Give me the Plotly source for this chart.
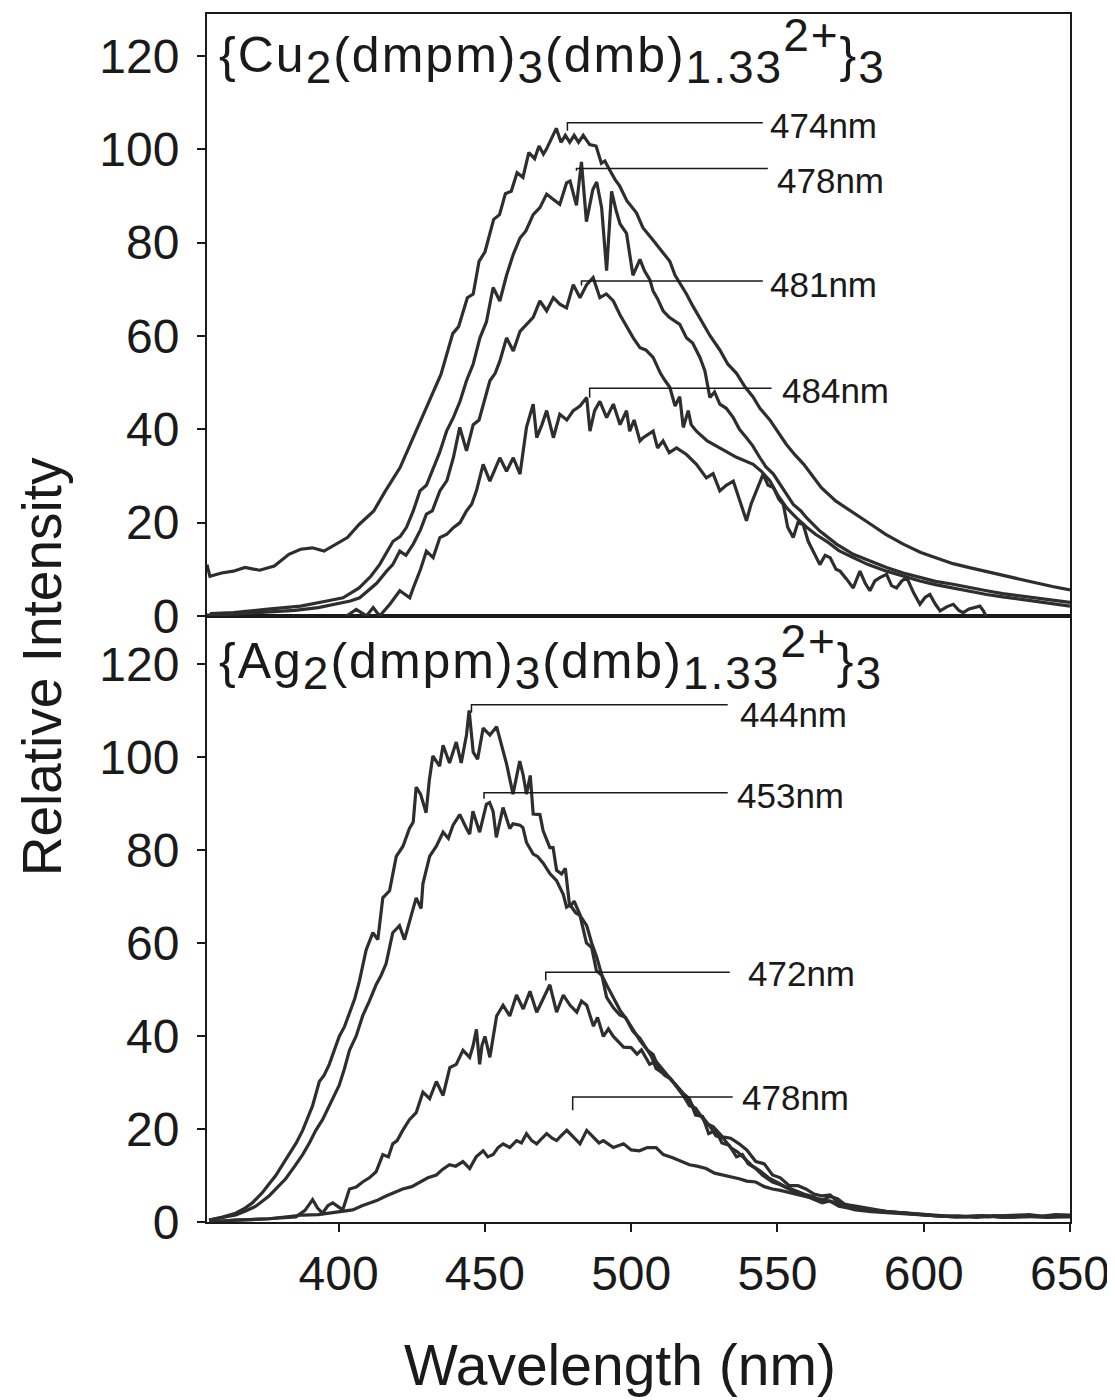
import plotly.graph_objects as go

# ---------------- data (wavelength nm, relative intensity) ----------------
CU_474 = [(355, 11), (356, 8.5), (360, 9.2), (364, 9.6), (368, 10.4), (373, 9.8), (378, 10.7), (383, 13.2),
          (387, 14.3), (391, 14.6), (395, 13.9), (398, 15), (403, 16.8), (407, 19.6), (412, 22.5), (416, 26.8),
          (421, 31.8), (425, 37.5), (430, 44.6), (435, 51.8), (439, 60.5), (441, 62), (444, 68.2), (446, 69),
          (448, 76), (450, 78), (453, 85), (455, 86), (457, 90.5), (459, 91), (461, 95), (463, 94), (465, 99.3),
          (467, 98), (468.5, 100.7), (470, 99), (471, 100), (472.5, 102), (474.4, 104.5), (476, 101.5),
          (477.5, 103), (479, 101.5), (480.5, 103), (482, 101.5), (483.6, 103), (485.8, 101), (488, 100.7),
          (489.8, 97), (491, 97.5), (492.7, 95.5), (494.5, 93.5), (496.1, 92.1), (498.5, 89), (501.8, 86.4),
          (504, 83.2), (507.5, 80.5), (510, 78.5), (513.2, 76), (515, 73), (518.9, 69), (521, 66.5),
          (524.6, 62.5), (527, 60), (530.3, 57), (533, 54), (536, 52), (539, 49), (541.6, 47), (544, 44.5),
          (547.4, 42), (550, 39.5), (553, 36.8), (556, 34.5), (559, 32.5), (562, 30), (565, 27.5), (570, 24.6),
          (576, 22), (582, 19.6), (587, 17.5), (593, 15.4), (599, 13.6), (604, 12.5), (610, 11.2), (616, 10.3),
          (622, 9.4), (628, 8.5), (633, 7.8), (639, 7), (644, 6.3), (650, 5.6)]

CU_478 = [(356, 0.5), (364, 0.7), (375, 1.4), (387, 2.1), (396, 3.2), (401.5, 3.9), (407, 6), (411, 8.5),
          (414, 11), (418.6, 16), (421, 17), (423.2, 19), (425.5, 22.5), (427.8, 26.8), (430, 28), (432.3, 31.8),
          (434.5, 35), (436.9, 39.6), (439.2, 42.5), (441.5, 46), (443.7, 50.4), (446, 54), (448.3, 59.6),
          (450.5, 63), (452.8, 70.4), (455.1, 67.5), (457.4, 73), (459.7, 77.5), (462, 81), (464, 82.5),
          (466.5, 86), (468.8, 87.5), (471.1, 90.4), (473.3, 89.3), (475.6, 88.2), (477.9, 92.8), (479.1, 93.2),
          (481.3, 88), (483, 97.3), (484.7, 84.5), (486.9, 91.4), (488.2, 93), (489.9, 87.5), (491.6, 74),
          (493.3, 91), (494.8, 87), (496.2, 84), (498.4, 82), (500.6, 73), (503, 76.4), (504.5, 74), (506.4, 72),
          (507.5, 69.6), (509, 68), (510.9, 65.4), (513, 64), (516.6, 62.5), (518.9, 59.6), (521, 58.5),
          (523.5, 55.4), (525.2, 52.5), (526.9, 46.8), (528.5, 48), (530.3, 45.4), (532.5, 44.5), (534.9, 42.5),
          (537, 40), (539.4, 38.2), (541.5, 36.5), (544, 33.9), (546, 32), (548.6, 30.4), (552, 27),
          (555.4, 23.9), (558, 22.5), (560, 21), (564.5, 18.2), (570.2, 15.4), (575.9, 13.2), (581.6, 11.8),
          (587.3, 10.4), (593, 9.2), (598.7, 8.2), (604, 7.4), (610, 6.8), (616, 6), (621.5, 5.4), (627, 4.8),
          (632.9, 4.3), (638, 3.9), (644, 3.4), (650, 2.9)]

CU_481 = [(355, 0.2), (365, 0.4), (375, 0.8), (385, 1.2), (393, 1.8), (400, 2.6), (404, 3.2), (407.2, 3.9),
          (410, 5.5), (413, 7), (416.4, 9.6), (418.5, 11), (420.9, 13.9), (423, 13), (425.5, 15.4), (428, 18.5),
          (430, 21.8), (432, 22.5), (434.6, 26.8), (437, 29), (439.2, 33.9), (441.4, 40.4), (443.7, 35.4),
          (446, 41), (448, 42), (449.4, 45.4), (451.7, 50.4), (453.5, 52), (455.1, 54.6), (457.4, 59.6),
          (459.7, 56.8), (462, 61), (464.2, 62.5), (466.5, 64), (468.8, 67.5), (471.1, 65.4), (473.4, 68.2),
          (475.6, 66.8), (477.9, 66), (480.2, 71), (482.5, 68.2), (484.8, 71), (487, 72.5), (489.3, 68.2),
          (491.5, 69), (493.9, 67.5), (496.2, 64.5), (498.5, 62), (500.7, 59.6), (503, 57.5), (505, 57),
          (507.5, 55.4), (510, 52), (511.5, 50.5), (513.2, 49), (515, 45), (516.6, 47), (517.8, 40.4),
          (519.5, 44), (520.5, 41), (522.3, 39.6), (526, 37.5), (530.3, 36), (536, 34), (541.7, 32.5),
          (544.5, 31), (547.4, 29), (550, 26), (553.1, 23.2), (556.5, 21), (560, 19), (563, 17.5), (566.8, 16),
          (571, 14), (575.9, 12.5), (581, 11), (587.3, 9.6), (593, 8.5), (598.7, 7.5), (604, 6.7), (610, 6),
          (616, 5.2), (621.5, 4.6), (627, 4.1), (632.9, 3.6), (640, 2.9), (650, 2.1)]

CU_484 = [(355, -3), (398, -2), (402.7, 0), (406, 1.4), (409.5, 0), (411.8, 1.8), (414, 0), (417.5, 2.5),
          (420.9, 5.4), (424.3, 3.9), (425.5, 6), (428, 10), (430, 13.9), (432.3, 12.5), (434.6, 16.8),
          (437, 17.5), (439.2, 18.9), (441.5, 20), (443.7, 22.5), (445.5, 24), (447.1, 26.8), (449.4, 32.5),
          (451.7, 28.9), (453.5, 31.5), (455.1, 33.9), (457.4, 31), (459.7, 33.9), (462, 30.4), (464.2, 40.4),
          (466.5, 45.4), (467.7, 38.2), (469.5, 41), (471.1, 44), (473.4, 38.2), (475.6, 43.2), (478, 42),
          (480.2, 44), (482.5, 45), (484.8, 46.8), (485.9, 39.6), (487.5, 44), (489.3, 46), (491.6, 42.5),
          (493.9, 45.4), (496.2, 41), (498.4, 44), (499.5, 39.6), (501, 42), (503, 37.5), (504.1, 38.2),
          (507.5, 39.6), (509, 36), (510.9, 37.5), (513, 35), (515.5, 36), (518.9, 34.6), (522.3, 32.5),
          (525.7, 29.6), (528, 30.5), (530.3, 26.8), (532.5, 28), (534.9, 28.9), (537, 25), (539.4, 20.4),
          (541, 24), (542.9, 26.8), (545.1, 30.4), (546.8, 28), (548.6, 27.5), (550.5, 25), (552, 23.9),
          (553.5, 19), (555.4, 16.8), (557, 20), (558.8, 19.6), (560.5, 16), (562.2, 13.9), (564.5, 11),
          (566.3, 13), (568, 12.5), (570, 10), (571.4, 9.6), (573.5, 8), (575.9, 6), (578.2, 9.6), (580, 7),
          (581.6, 5.4), (583.3, 7.5), (585, 8.2), (587.3, 8.9), (589, 6.5), (590.7, 6), (592.5, 7.5),
          (594.2, 8.2), (596.5, 5), (598.7, 2.5), (600.5, 4), (602.1, 4.6), (604, 2.5), (605.6, 1.1), (608, 2),
          (610.1, 2.5), (612, 1.2), (613.5, 0.7), (615.5, 1.5), (617, 1.8), (619.2, 2.1), (620.5, 1),
          (621.5, -0.4), (625, -3), (650, -3)]

AG_444 = [(355.7, 0.4), (360, 1), (364.8, 1.9), (368, 3), (370.5, 4.1), (373.9, 6.3), (376, 8), (378.5, 10),
          (381, 12.5), (383.1, 14.5), (385.5, 17), (387.7, 19.7), (389.5, 22.5), (391.1, 25), (393.4, 30.2),
          (395, 31.5), (396.8, 33.9), (398.5, 37), (400.2, 39.9), (402, 42), (403.7, 45.1), (405.5, 48),
          (407.1, 51.8), (409.4, 58.5), (411.7, 62.2), (413.4, 60.7), (415.1, 69.7), (417.4, 71.2),
          (419.7, 78.6), (422, 80.8), (424.2, 84.6), (425.5, 86), (426.5, 93.5), (428, 92), (429.9, 88),
          (431, 95), (432.2, 100.2), (434.5, 98), (435.7, 102.5), (437.9, 98.7), (440.2, 103.2), (441.9, 98.7),
          (443.7, 104.7), (444.6, 110), (446, 101), (447.5, 99.5), (449.4, 106.2), (451.7, 104.7),
          (454, 106.5), (455.5, 103), (457.4, 98.5), (459.6, 92), (461.9, 99.1), (463.1, 96), (464.2, 92),
          (465.5, 96), (466.5, 87.7), (468.8, 87.6), (469.9, 84.1), (472.2, 80.5), (473.3, 80.5), (474.5, 75.6),
          (476.2, 74.8), (477.5, 76), (479, 67.7), (480.5, 69), (482.4, 66.2), (484.7, 60), (486.5, 59),
          (488.1, 54.1), (490, 53), (491.6, 48.3), (494, 46), (496.1, 44.5), (498, 44), (500.6, 41),
          (503, 39.5), (505.2, 37.3), (507, 35.5), (508.5, 33), (510.9, 32), (513, 31), (515.3, 29.5),
          (518, 27.5), (519.9, 26.5), (522, 23), (524.4, 22.7), (526.5, 19), (529, 19.7), (531, 17),
          (533.5, 16.5), (536, 14), (538, 14.5), (540, 12.5), (542.6, 11.5), (545, 10), (548.3, 8.6), (551, 8),
          (554, 7.1), (557, 6.2), (559.7, 5.6), (562, 5), (565.3, 4.1), (568, 4.5), (571, 3.4), (574, 3),
          (576.7, 2.6), (582, 2.2), (588, 1.9), (594, 1.7), (599.4, 1.5), (605, 1.3), (610.8, 1.1), (616, 1.2),
          (622.2, 1.1), (628, 1.4), (633.5, 1.5), (640, 1.2), (645, 1.6), (650, 1.5)]

AG_453 = [(355.7, 0.4), (360, 0.9), (364.8, 1.5), (368, 2.3), (371.7, 3.4), (376.2, 5.6), (379, 7.5),
          (381.9, 9.3), (385, 12), (387.7, 14.5), (390, 17), (392.2, 19.7), (394.5, 22), (396.8, 25),
          (398.5, 27), (400.2, 29.4), (402, 33), (403.7, 36.9), (406, 40), (408.2, 44.3), (410.5, 47.5),
          (412.8, 51), (414.5, 53), (416.2, 55.5), (418.5, 62.2), (420.8, 63.7), (422.5, 60.7), (424.2, 64.5),
          (426.5, 69.7), (428.2, 67.4), (428.8, 72.7), (431.1, 78.6), (433.4, 80.8), (435.7, 83.8),
          (437.5, 82.5), (439.1, 85.3), (441.4, 87.6), (443.7, 84.6), (444.8, 83.4), (445.9, 88.3),
          (448.2, 83.8), (450.5, 89.8), (451.6, 90.2), (452.8, 88.3), (453.9, 82.7), (456.2, 89.1),
          (458.5, 84.6), (459.6, 85.6), (462, 85.3), (463, 84.8), (464.2, 81.6), (466.5, 79.1), (468, 78.6),
          (470, 77.1), (471, 76.2), (472.2, 74.9), (474.5, 73.4), (476.8, 70.4), (477.9, 67.7), (479.1, 68.2),
          (481, 66.5), (482.5, 65.9), (484.8, 63.7), (486.5, 60), (488.2, 57), (490, 53), (492, 50.5),
          (494, 48), (496.2, 45.5), (498.5, 43.5), (500.6, 41.5), (503, 39), (505.5, 37), (507.5, 36),
          (509.5, 33), (511.5, 31.5), (513.5, 30.8), (515.5, 29), (518, 27), (520, 26), (522.5, 23.5),
          (524.5, 22.5), (527, 20.5), (529, 18.5), (531.5, 18), (534, 16), (536.5, 15), (539, 13.5),
          (541.5, 12), (544, 11), (547, 9.5), (550, 8.5), (553, 7.5), (556, 6.8), (559, 6), (562, 5.5),
          (565, 4.6), (568, 5.5), (570.5, 5), (573, 3.8), (576, 3), (580, 2.6), (585, 2.3), (590, 2),
          (595, 1.8), (600, 1.6), (606, 1.2), (612, 1.3), (618, 1), (624, 1.4), (630, 1.2), (636, 1.6),
          (642, 1.1), (650, 1.3)]

AG_472 = [(355.7, 0), (364.8, 0.4), (376.2, 0.7), (385.4, 1.1), (388.5, 2.5), (391.1, 4.8), (392.8, 3),
          (394.5, 1.9), (396.3, 3.5), (398, 4.1), (401.4, 2.6), (403.7, 7.1), (406, 7.5), (408.2, 8.6),
          (410.5, 9.5), (412.8, 10.8), (415.1, 14.5), (417, 14), (418.5, 16.8), (420, 17.5), (421.9, 19.7),
          (424.2, 22), (426.5, 23.5), (428.8, 27.9), (431.1, 26.5), (433.4, 30.2), (435.7, 27.2), (438, 33.2),
          (440.2, 33.9), (442.5, 36.9), (444.8, 35.4), (446, 38), (447.1, 41.4), (448.2, 33.9), (449, 38),
          (450, 39.9), (451.7, 35.4), (452.8, 40), (454, 44.3), (456.2, 46.6), (458.5, 44.3), (460.8, 48.8),
          (463.1, 45.8), (465.4, 49.6), (467.7, 45.1), (470, 48.1), (472.2, 51), (474.5, 45.1), (476.8, 48.8),
          (479.1, 46.6), (481.4, 45.1), (483, 47.5), (484.8, 46.6), (487.1, 42.1), (488.5, 44), (490.5, 39.9),
          (492.2, 41.5), (493.9, 39.9), (497.4, 37.6), (500, 37.5), (502, 36.1), (503.5, 37), (506.3, 33.9),
          (508.5, 34.5), (511, 32.5), (514.2, 30.2), (517, 28), (519.9, 25), (522, 24.5), (525.6, 21.2),
          (528, 20.5), (531.2, 18.3), (534, 18), (536.9, 16.8), (539.5, 15.5), (542.6, 13), (545.5, 12.5),
          (548.3, 10.1), (551, 9.5), (554, 7.8), (557, 7.8), (559.7, 7.1), (562.5, 6), (565.3, 5.6), (568, 5.8),
          (571, 4.1), (574, 3.5), (577, 3), (582, 2.5), (588, 2.2), (594, 1.9), (600, 1.5), (607, 1.3),
          (614, 1.1), (620, 1.4), (627, 1), (634, 1.3), (642, 1), (650, 1.2)]

AG_478 = [(355.7, 0), (364.8, 0.4), (376.2, 0.7), (387.7, 1.5), (393, 1.6), (399.1, 2.2), (404.8, 2.6),
          (408, 3.5), (410.5, 4.1), (413, 4.6), (416.2, 5.6), (419, 6.3), (421.9, 7.1), (425, 7.6), (427.7, 8.6),
          (430.5, 9.5), (433.4, 10.1), (435.5, 11.3), (437.9, 12.3), (440, 12), (442.5, 13), (444.8, 11.5),
          (447, 14), (449.4, 15.3), (451, 14), (452.8, 14.5), (454.5, 16), (456.2, 16.8), (458.5, 16),
          (460.8, 17.5), (462.5, 17), (464.2, 19), (466, 17.5), (467.7, 16.8), (469.5, 18), (471.1, 19),
          (473, 18), (474.5, 17.5), (476, 18.5), (478, 19.7), (480.2, 18.3), (482.5, 16.8), (484.8, 19.7),
          (487.1, 18.3), (489, 17), (490.5, 17.5), (493.9, 16), (497.4, 16.8), (500, 15.5), (502.8, 15.3),
          (505.5, 16), (508.5, 16), (511, 14.5), (514.2, 13.8), (517, 13), (519.9, 12.3), (522.5, 12),
          (525.6, 11.5), (528.5, 10.5), (531.2, 10.1), (534, 9.8), (536.9, 9.3), (539.5, 8.8), (542.6, 8.6),
          (545.5, 7.6), (548.3, 7.1), (551, 6.8), (554, 6.3), (559.5, 5.5), (565.3, 4.8), (571, 4),
          (576.7, 3.4), (582, 2.8), (588, 2.2), (594, 1.9), (600, 1.5), (610.8, 1.1), (620, 1.3), (630, 1),
          (640, 1.2), (650, 1.1)]

# peak labels: (text, tick x, tick bottom y, leader y, leader end x, label x, label y)
CU_PEAKS = [("474nm", 478.2, 104.0, 105.7, 545.0, 546.7, 105.0),
            ("478nm", 481.3, 95.4, 95.9, 546.7, 549.1, 93.3),
            ("481nm", 483.0, 70.8, 71.8, 545.0, 546.7, 71.0),
            ("484nm", 485.8, 46.8, 48.8, 548.0, 550.8, 48.3)]
AG_PEAKS = [("444nm", 445.4, 109.5, 111.2, 533.0, 536.5, 109.2),
            ("453nm", 449.7, 91.0, 92.3, 533.0, 535.4, 91.6),
            ("472nm", 470.8, 51.9, 53.7, 533.7, 539.4, 53.4),
            ("478nm", 480.0, 24.0, 26.9, 534.7, 537.1, 26.8)]

X_TICKS = [400, 450, 500, 550, 600, 650]
Y_TICKS = [0, 20, 40, 60, 80, 100, 120]

FONT = "Liberation Sans, Arial, sans-serif"
INK = "#1a1a1a"
LINE = "#2e2e2e"

fig = go.Figure()

def add_curve(data, xa, ya):
    xs = [p[0] for p in data]
    ys = [p[1] for p in data]
    fig.add_trace(go.Scatter(x=xs, y=ys, mode="lines", xaxis=xa, yaxis=ya,
                             line=dict(color=LINE, width=3.2), hoverinfo="skip", showlegend=False))

for d in (CU_474, CU_478, CU_481, CU_484):
    add_curve(d, "x2", "y2")
for d in (AG_444, AG_453, AG_472, AG_478):
    add_curve(d, "x", "y")

annotations = []
shapes = []

def add_peaks(peaks, xr, yr):
    for text, tx, tb, ly, ex, lx, lyy in peaks:
        shapes.append(dict(type="path", xref=xr, yref=yr,
                           path=f"M {tx} {tb} L {tx} {ly} L {ex} {ly}",
                           line=dict(color=INK, width=1.5)))
        annotations.append(dict(x=lx, y=lyy, xref=xr, yref=yr, text=text, showarrow=False,
                                xanchor="left", yanchor="middle",
                                font=dict(family=FONT, size=35, color=INK)))

add_peaks(CU_PEAKS, "x2", "y2")
add_peaks(AG_PEAKS, "x", "y")

def compound(metal):
    s = "<span style='font-size:46px'>"
    e = "</span>"
    return ("<span style='letter-spacing:2px'>"
            f"{{{metal}<sub>{s}2{e}</sub>(dmpm)<sub>{s}3{e}</sub>(dmb)<sub>{s}1.33{e}</sub>"
            f"<sup>{s}2+{e}</sup>}}<sub>{s}3{e}</sub></span>")

annotations.append(dict(x=0.012, y=0.969, xref="paper", yref="paper", text=compound("Cu"),
                        showarrow=False, xanchor="left", yanchor="middle",
                        font=dict(family=FONT, size=50, color=INK)))
annotations.append(dict(x=0.012, y=0.4676, xref="paper", yref="paper", text=compound("Ag"),
                        showarrow=False, xanchor="left", yanchor="middle",
                        font=dict(family=FONT, size=50, color=INK)))

annotations.append(dict(x=-0.1912, y=0.46, xref="paper", yref="paper", text="Relative Intensity",
                        textangle=-90, showarrow=False, xanchor="center", yanchor="middle",
                        font=dict(family=FONT, size=55, color=INK)))
annotations.append(dict(x=0.4786, y=-0.1182, xref="paper", yref="paper", text="Wavelength (nm)",
                        showarrow=False, xanchor="center", yanchor="middle",
                        font=dict(family=FONT, size=57, color=INK)))

axis_common = dict(showgrid=False, zeroline=False, showline=True, linecolor=INK, linewidth=2,
                   mirror=True, tickfont=dict(family=FONT, size=48, color=INK))

split = 0.5017
fig.update_layout(
    width=1107, height=1392,
    margin=dict(l=199, r=45, t=4, b=178),
    paper_bgcolor="white", plot_bgcolor="white",
    xaxis=dict(domain=[0, 1], anchor="y", range=[355, 650], tickvals=X_TICKS,
               ticks="outside", ticklen=8, tickwidth=2, tickcolor=INK, ticklabelstandoff=0,
               **axis_common),
    yaxis=dict(domain=[0, split], anchor="x", range=[0, 130.3], tickvals=Y_TICKS,
               ticks="outside", ticklen=8, tickwidth=2, tickcolor=INK, ticklabelstandoff=8,
               **axis_common),
    xaxis2=dict(domain=[0, 1], anchor="y2", range=[355, 650], showticklabels=False, ticks="",
                **axis_common),
    yaxis2=dict(domain=[split, 1], anchor="x2", range=[0, 129.0], tickvals=Y_TICKS,
                ticks="outside", ticklen=8, tickwidth=2, tickcolor=INK, ticklabelstandoff=8,
                **axis_common),
    annotations=annotations,
    shapes=shapes,
)

fig.write_html("out.html")
